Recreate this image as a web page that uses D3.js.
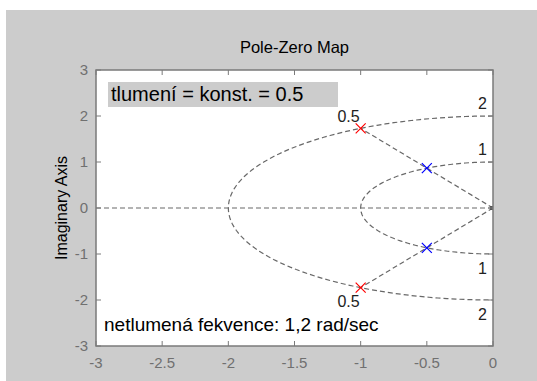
<!DOCTYPE html>
<html><head><meta charset="utf-8">
<script src="https://cdn.jsdelivr.net/npm/d3@7"></script>
<style>
html,body{margin:0;padding:0;background:#fff;}
svg{display:block;font-family:"Liberation Sans",Arial,sans-serif;}
</style></head>
<body>
<script>
// ---- data ----
const xTicks = [-3, -2.5, -2, -1.5, -1, -0.5, 0];
const yTicks = [-3, -2, -1, 0, 1, 2, 3];
const polesRedRe = [-1, -1];
const polesRedIm = [1.732, -1.732];
const polesBlueRe = [-0.5, -0.5];
const polesBlueIm = [0.866, -0.866];
const dampings = [0.5];
const natFreqs = [1, 2];
const titleText = "Pole-Zero Map";
const yLabelText = "Imaginary Axis";
const noteTop = "tlumení = konst. = 0.5";
const noteBottom = "netlumená fekvence: 1,2 rad/sec";

const W = 537, H = 381;
const L = 96, R = 493, T = 70, B = 346;
const svg = d3.select("body").append("svg").attr("width", W).attr("height", H);
svg.append("rect").attr("x", 6).attr("y", 10).attr("width", W - 6).attr("height", H - 10).attr("fill", "#cccccc");

const x = d3.scaleLinear().domain([-3, 0]).range([L, R]);
const y = d3.scaleLinear().domain([-3, 3]).range([B, T]);

svg.append("rect").attr("x", L).attr("y", T).attr("width", R - L).attr("height", B - T).attr("fill", "#fff");
svg.append("clipPath").attr("id", "clip").append("rect").attr("x", L).attr("y", T).attr("width", R - L).attr("height", B - T);
const g = svg.append("g").attr("clip-path", "url(#clip)");

const gridStyle = sel => sel.attr("fill", "none").attr("stroke", "#686868").attr("stroke-width", 1.2).attr("stroke-dasharray", "5,3");

// real axis
gridStyle(g.append("line").attr("x1", x(-3)).attr("x2", x(0)).attr("y1", y(0)).attr("y2", y(0)));

// natural frequency arcs
const line = d3.line().x(d => x(d[0])).y(d => y(d[1]));
natFreqs.forEach(r => {
  const pts = d3.range(0, 181, 2).map(a => {
    const t = (90 + a) * Math.PI / 180;
    return [r * Math.cos(t), r * Math.sin(t)];
  });
  gridStyle(g.append("path").attr("d", line(pts)));
});
// damping lines
const rMax = d3.max(natFreqs);
dampings.forEach(z => {
  const th = Math.acos(z);
  [1, -1].forEach(s => {
    gridStyle(g.append("path").attr("d", line([[0, 0], [-rMax * Math.cos(th), s * rMax * Math.sin(th)]])));
  });
});
g.append("rect").attr("x", x(0) - 3).attr("y", y(0) - 2).attr("width", 4).attr("height", 4).attr("fill", "#555");

// grid labels
natFreqs.forEach(r => {
  svg.append("text").attr("x", R - 6).attr("y", y(r) - 7).attr("text-anchor", "end").attr("font-size", 16).attr("fill", "#222").text(r);
  svg.append("text").attr("x", R - 6).attr("y", y(-r) + 20).attr("text-anchor", "end").attr("font-size", 16).attr("fill", "#222").text(r);
});
dampings.forEach(z => {
  const th = Math.acos(z);
  const px = -rMax * Math.cos(th), py = rMax * Math.sin(th);
  svg.append("text").attr("x", x(px) - 1).attr("y", y(py) - 6).attr("text-anchor", "end").attr("font-size", 16).attr("fill", "#222").text(z);
  svg.append("text").attr("x", x(px) - 1).attr("y", y(-py) + 19).attr("text-anchor", "end").attr("font-size", 16).attr("fill", "#222").text(z);
});

// poles
function cross(re, im, color) {
  re.forEach((v, i) => {
    const cx = x(v), cy = y(im[i]), s = 5;
    svg.append("path").attr("d", `M${cx - s},${cy - s}L${cx + s},${cy + s}M${cx - s},${cy + s}L${cx + s},${cy - s}`)
      .attr("stroke", color).attr("stroke-width", 1.2).attr("fill", "none");
  });
}
cross(polesRedRe, polesRedIm, "#ff0000");
cross(polesBlueRe, polesBlueIm, "#0000ff");

// box and ticks
svg.append("rect").attr("x", L).attr("y", T).attr("width", R - L).attr("height", B - T).attr("fill", "none").attr("stroke", "#7a7a7a").attr("stroke-width", 1.5);
const tk = 5;
xTicks.forEach(v => {
  svg.append("line").attr("x1", x(v)).attr("x2", x(v)).attr("y1", B).attr("y2", B - tk).attr("stroke", "#7a7a7a");
  svg.append("line").attr("x1", x(v)).attr("x2", x(v)).attr("y1", T).attr("y2", T + tk).attr("stroke", "#7a7a7a");
  svg.append("text").attr("x", x(v)).attr("y", B + 22).attr("text-anchor", "middle").attr("font-size", 15).attr("fill", "#707070").text(v);
});
yTicks.forEach(v => {
  svg.append("line").attr("x1", L).attr("x2", L + tk).attr("y1", y(v)).attr("y2", y(v)).attr("stroke", "#7a7a7a");
  svg.append("line").attr("x1", R).attr("x2", R - tk).attr("y1", y(v)).attr("y2", y(v)).attr("stroke", "#7a7a7a");
  svg.append("text").attr("x", L - 8).attr("y", y(v) + 5).attr("text-anchor", "end").attr("font-size", 15).attr("fill", "#707070").text(v);
});

// title and y label
svg.append("text").attr("x", (L + R) / 2).attr("y", 53).attr("text-anchor", "middle").attr("font-size", 16.5).attr("fill", "#000").text(titleText);
svg.append("text").attr("transform", `translate(67,${(T + B) / 2}) rotate(-90)`).attr("text-anchor", "middle").attr("font-size", 16).attr("fill", "#000").text(yLabelText);

// annotations
svg.append("rect").attr("x", 108).attr("y", 82).attr("width", 230).attr("height", 25).attr("fill", "#cccccc");
svg.append("text").attr("x", 111).attr("y", 101).attr("font-size", 20).attr("fill", "#000").text(noteTop);
svg.append("text").attr("x", 104).attr("y", 331).attr("font-size", 19).attr("fill", "#000").text(noteBottom);
</script>
</body></html>
